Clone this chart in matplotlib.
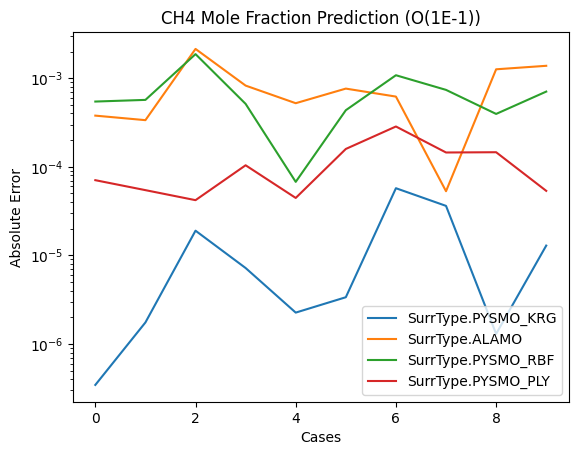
import numpy as np
import matplotlib.pyplot as plt

# Errores absolutos por caso
casos = np.arange(10)
krg = [3.45e-7, 1.75e-6, 1.9e-5, 7.2e-6, 2.26e-6, 3.37e-6, 5.73e-5, 3.62e-5, 1.3e-6, 1.29e-5]
alamo = [3.78e-4, 3.36e-4, 2.14e-3, 8.25e-4, 5.22e-4, 7.63e-4, 6.2e-4, 5.3e-5, 1.26e-3, 1.38e-3]
rbf = [5.45e-4, 5.69e-4, 1.87e-3, 5.13e-4, 6.76e-5, 4.35e-4, 1.08e-3, 7.38e-4, 3.95e-4, 7.06e-4]
ply = [7.06e-5, 5.45e-5, 4.2e-5, 1.04e-4, 4.45e-5, 1.59e-4, 2.85e-4, 1.45e-4, 1.46e-4, 5.35e-5]

series = {
    "SurrType.PYSMO_KRG": krg,
    "SurrType.ALAMO": alamo,
    "SurrType.PYSMO_RBF": rbf,
    "SurrType.PYSMO_PLY": ply,
}

fig, ax = plt.subplots(figsize=(6.4, 4.8))

for nombre, valores in series.items():
    ax.plot(casos, valores, label=nombre)

ax.set_yscale("log")
ax.set_xlabel("Cases")
ax.set_ylabel("Absolute Error")
ax.set_title("CH4 Mole Fraction Prediction (O(1E-1))")
ax.legend(loc="lower right")

plt.savefig("out.png", dpi=100, bbox_inches="tight")
